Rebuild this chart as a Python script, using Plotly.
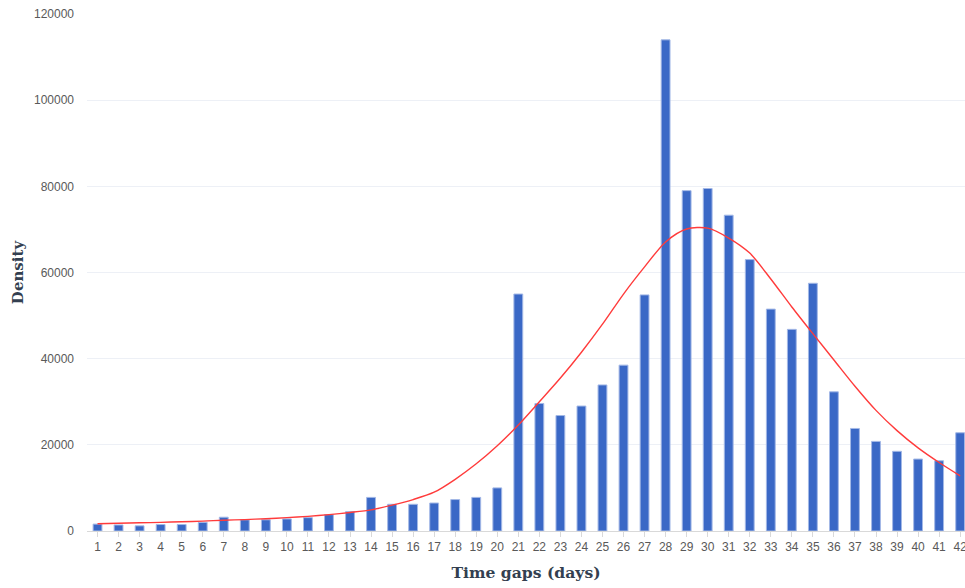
import plotly.graph_objects as go

days = list(range(1, 43))
density = [1600, 1400, 1200, 1500, 1500, 2000, 3200, 2600, 2600, 2800,
           3100, 3800, 4500, 7800, 6200, 6200, 6500, 7300, 7800, 10000,
           55000, 29600, 26800, 29000, 33900, 38500, 54800, 114000, 79000, 79500,
           73300, 63000, 51500, 46800, 57500, 32300, 23800, 20800, 18500, 16700,
           16300, 22800]
fit = [1700, 1800, 1900, 2000, 2150, 2300, 2500, 2650, 2850, 3100,
       3400, 3800, 4300, 4900, 6000, 7300, 9000, 12000, 15600, 19800,
       24600, 30000, 35500, 41500, 48000, 55000, 61300, 67100, 70100, 70300,
       68000, 64500, 58500, 52000, 45800, 39700, 33600, 28000, 23300, 19300,
       15900, 12800]
y_ticks = [0, 20000, 40000, 60000, 80000, 100000, 120000]

fig = go.Figure()
fig.add_trace(go.Bar(x=days, y=density, width=0.42,
                     marker=dict(color="#3A68C6", line=dict(color="#A3B8E6", width=1)),
                     showlegend=False))
fig.add_trace(go.Scatter(x=days, y=fit, mode="lines",
                         line=dict(color="#FF3B3B", width=1.4, shape="spline", smoothing=0.8),
                         showlegend=False))

fig.update_layout(
    width=965, height=588,
    margin=dict(l=87, r=0, t=14, b=57, autoexpand=False),
    paper_bgcolor="white", plot_bgcolor="white",
    xaxis=dict(range=[0.5, 42.23], tickmode="array", tickvals=days, ticktext=[str(d) for d in days],
               tickson="boundaries", ticks="outside", ticklen=5, tickcolor="#D9D9D9",
               showline=True, linecolor="#D9D9D9", linewidth=1, showgrid=False,
               ticklabeloverflow="allow",
               tickfont=dict(family="Liberation Sans", size=12, color="#595959"),
               title=dict(text="<b>Time gaps (days)</b>", standoff=13,
                          font=dict(family="DejaVu Serif", size=15.6, color="#333F50"))),
    yaxis=dict(range=[0, 120000], tickmode="array", tickvals=y_ticks,
               ticktext=[str(v) for v in y_ticks], showgrid=True, gridcolor="#EDF0F6",
               zeroline=False, ticks="", showline=False, ticklabelstandoff=12,
               ticklabeloverflow="allow",
               tickfont=dict(family="Liberation Sans", size=12, color="#595959"),
               title=dict(text="<b>Density</b>", standoff=6,
                          font=dict(family="DejaVu Serif", size=15, color="#333F50"))),
)
fig.write_html("out.html",
               config={"displayModeBar": False},
               post_script="document.body.style.margin='0';"
                           "document.documentElement.style.overflow='hidden';")
